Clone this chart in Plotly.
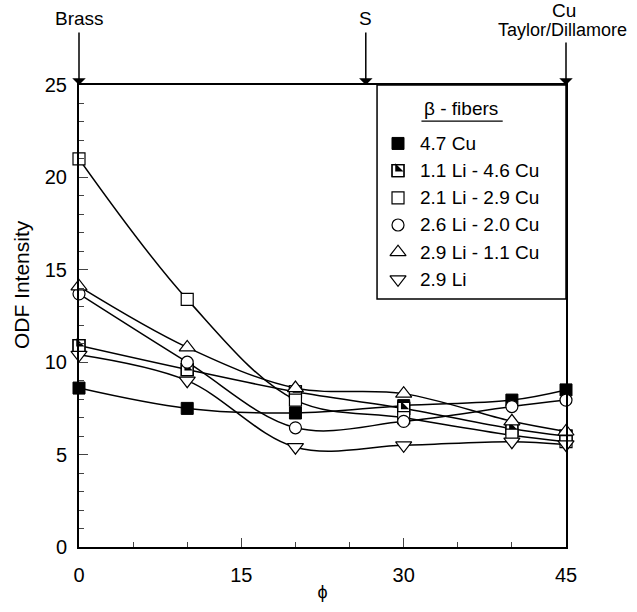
import plotly.graph_objects as go

# ---------------- data ----------------
phi = [0, 10, 20, 30, 40, 45]
series_names = ["4.7 Cu", "1.1 Li - 4.6 Cu", "2.1 Li - 2.9 Cu",
                "2.6 Li - 2.0 Cu", "2.9 Li - 1.1 Cu", "2.9 Li"]
cu_47 = [8.6, 7.5, 7.25, 7.65, 7.95, 8.5]
li11_cu46 = [10.9, 9.6, 8.4, 7.5, 6.4, 6.0]
li21_cu29 = [21.0, 13.4, 7.95, 7.0, 6.05, 5.7]
li26_cu20 = [13.7, 10.0, 6.45, 6.8, 7.6, 7.95]
li29_cu11 = [14.1, 10.8, 8.6, 8.3, 6.8, 6.25]
li_29 = [10.4, 9.0, 5.4, 5.5, 5.7, 5.55]
series_values = [cu_47, li11_cu46, li21_cu29, li26_cu20, li29_cu11, li_29]

y_ticks = [0, 5, 10, 15, 20, 25]
x_ticks = [0, 15, 30, 45]
legend_rows = [0, 1, 2, 3, 4, 5]

texture_labels = ["Brass", "S", "Cu"]
texture_sub = ["", "", "Taylor/Dillamore"]
texture_phi = [0, 26.5, 45]

# ---------------- styles ----------------
FONT = "Liberation Sans, Arial, sans-serif"
styles = [
    dict(symbol="square", size=12, color="black", line=dict(color="black", width=1)),
    dict(symbol="square", size=12, color="white", line=dict(color="black", width=1.2)),
    dict(symbol="square", size=12, color="white", line=dict(color="black", width=1.2)),
    dict(symbol="circle", size=12, color="white", line=dict(color="black", width=1.2)),
    dict(symbol="triangle-up", size=14, color="white", line=dict(color="black", width=1.2)),
    dict(symbol="triangle-down", size=14, color="white", line=dict(color="black", width=1.2)),
]
# half-filled square: black lower-left right triangle (ne rotated 180, nudged up) + outline
HALF_SIZE = 9.2
half_fill = dict(symbol="triangle-ne", size=HALF_SIZE, angle=180,
                 standoff=0.4 * HALF_SIZE / 2, color="black", line=dict(width=0))
half_outline = dict(symbol="square-open", size=12, color="black",
                    line=dict(color="black", width=1.2))

fig = go.Figure()

# lines first
for name, vals in zip(series_names, series_values):
    fig.add_trace(go.Scatter(x=phi, y=vals, mode="lines",
                             line=dict(color="black", width=1.5, shape="spline", smoothing=1.0),
                             showlegend=False, hoverinfo="skip", cliponaxis=False))

# markers
for i, (name, vals) in enumerate(zip(series_names, series_values)):
    fig.add_trace(go.Scatter(x=phi, y=vals, mode="markers", name=name,
                             marker=styles[i], showlegend=False, cliponaxis=False))
    if i == 1:
        for extra in (half_fill, half_outline):
            fig.add_trace(go.Scatter(x=phi, y=vals, mode="markers", marker=extra,
                                     showlegend=False, hoverinfo="skip", cliponaxis=False))

# manual legend on its own axes
LX0, LX1 = 0.612, 1.0
LY0, LY1 = 0.537, 1.0
mark_x = 0.111
text_x = 0.217
for i, r in enumerate(legend_rows):
    fig.add_trace(go.Scatter(x=[mark_x], y=[r], mode="markers", marker=styles[i],
                             xaxis="x2", yaxis="y2", showlegend=False, hoverinfo="skip",
                             cliponaxis=False))
    if i == 1:
        for extra in (half_fill, half_outline):
            fig.add_trace(go.Scatter(x=[mark_x], y=[r], mode="markers", marker=extra,
                                     xaxis="x2", yaxis="y2", showlegend=False,
                                     hoverinfo="skip", cliponaxis=False))

annotations = []
for r, name in zip(legend_rows, series_names):
    annotations.append(dict(x=text_x, y=r, xref="x2", yref="y2", text=name,
                            showarrow=False, xanchor="left", yanchor="middle",
                            font=dict(family=FONT, size=19, color="black")))
annotations.append(dict(x=0.445, y=-1.3, xref="x2", yref="y2", text="β - fibers",
                        showarrow=False, xanchor="center", yanchor="middle",
                        font=dict(family=FONT, size=19, color="black")))

# y axis title
annotations.append(dict(x=-0.119, y=0.567, xref="paper", yref="paper", text="ODF Intensity",
                        textangle=-90, showarrow=False, xanchor="center", yanchor="middle",
                        font=dict(family=FONT, size=21, color="black")))

# texture arrows (arrow only) + labels
for lab, sub, p in zip(texture_labels, texture_sub, texture_phi):
    annotations.append(dict(x=p, y=25, xref="x", yref="y", text="",
                            showarrow=True, ax=0, ay=-44 if sub else -54,
                            arrowhead=1, arrowsize=1.5, arrowwidth=1.5,
                            arrowcolor="black"))
    if sub:
        annotations.append(dict(x=p, y=25, xref="x", yref="y", text=lab,
                                showarrow=False, yshift=75, xshift=-2,
                                font=dict(family=FONT, size=19, color="black")))
        annotations.append(dict(x=p, y=25, xref="x", yref="y", text=sub,
                                showarrow=False, yshift=55, xshift=-4,
                                font=dict(family=FONT, size=18, color="black")))
    else:
        annotations.append(dict(x=p, y=25, xref="x", yref="y", text=lab,
                                showarrow=False, yshift=67,
                                font=dict(family=FONT, size=19, color="black")))

shapes = [
    dict(type="rect", xref="paper", yref="paper", x0=LX0, x1=LX1, y0=LY0, y1=LY1,
         line=dict(color="black", width=1.5), fillcolor="white", layer="below"),
    dict(type="line", xref="x2", yref="y2", x0=0.235, x1=0.665, y0=-0.82, y1=-0.82,
         line=dict(color="black", width=1.2)),
]

fig.update_layout(
    width=637, height=612,
    margin=dict(l=79, r=71, t=85, b=65),
    paper_bgcolor="white", plot_bgcolor="rgba(0,0,0,0)",
    font=dict(family=FONT, size=20, color="black"),
    showlegend=False,
    annotations=annotations,
    shapes=shapes,
    xaxis=dict(range=[0, 45], tickvals=x_ticks, ticks="inside", ticklen=9, tickwidth=1.2,
               minor=dict(dtick=5, ticks="inside", ticklen=5, tickwidth=1, tick0=0),
               showline=True, linewidth=2, linecolor="black", mirror=True,
               showgrid=False, zeroline=False, ticklabelstandoff=9,
               title=dict(text="ϕ", font=dict(size=18), standoff=0),
               tickfont=dict(size=20)),
    yaxis=dict(range=[0, 25], tickvals=y_ticks, ticks="inside", ticklen=9, tickwidth=1.2,
               minor=dict(dtick=1, ticks="inside", ticklen=5, tickwidth=1, tick0=0),
               showline=True, linewidth=2, linecolor="black", mirror=True,
               showgrid=False, zeroline=False, ticklabelstandoff=6,
               tickfont=dict(size=20)),
    xaxis2=dict(domain=[LX0, LX1], range=[0, 1], anchor="y2", visible=False, fixedrange=True),
    yaxis2=dict(domain=[LY0, LY1], range=[5.72, -2.15], anchor="x2", visible=False,
                fixedrange=True),
)

fig.write_html("out.html", config={"displayModeBar": False},
               post_script="document.body.style.margin='0px';")
